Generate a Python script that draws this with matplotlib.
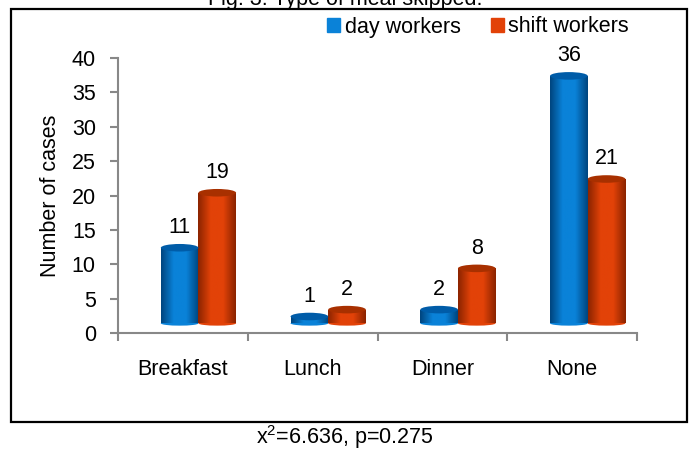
import matplotlib.pyplot as plt
import numpy as np
from matplotlib.patches import Ellipse, Rectangle

plt.rcParams["font.family"] = ["Liberation Sans", "DejaVu Sans"]
plt.rcParams["mathtext.fontset"] = "custom"
plt.rcParams["mathtext.rm"] = "Liberation Sans"
plt.rcParams["mathtext.it"] = "Liberation Sans"

## DATA
categories = ["Breakfast", "Lunch", "Dinner", "None"]
day_workers = [11, 1, 2, 36]
shift_workers = [19, 2, 8, 21]
series_names = ["day workers", "shift workers"]
y_ticks = [0, 5, 10, 15, 20, 25, 30, 35, 40]
title = "Fig. 3: Type of meal skipped."
caption = "x$^{2}$=6.636, p=0.275"

## STYLE
blue = ("#00457f", "#0a82d8", "#005ca8")   # edge, centre, top
red = ("#8c2400", "#e24208", "#a83000")
width = 0.29
shift = 0.12      # 3d perspective shift of the bars
floor = 1.4       # 3d floor raises the bar base
cap = 1.1         # height of the top ellipse in data units
fs = 15.5

fig = plt.figure(figsize=(6.94, 4.5), dpi=100)
ax = fig.add_axes([118 / 694, 1 - 333 / 450, 519 / 694, 275 / 450])

x = np.arange(len(categories))


def cylinders(ax, xpos, values, colors, label):
    edge, mid, top = colors
    bars = ax.bar(xpos, values, width, bottom=floor, color=mid, label=label, zorder=2)
    cmap = plt.matplotlib.colors.LinearSegmentedColormap.from_list(
        "c", [edge, mid, mid, edge]
    )
    grad = np.linspace(0, 1, 64).reshape(1, -1)
    for bar, v in zip(bars, values):
        bx, bw = bar.get_x(), bar.get_width()
        im = ax.imshow(
            grad,
            cmap=cmap,
            extent=[bx, bx + bw, floor, floor + v],
            aspect="auto",
            zorder=3,
        )
        im.set_clip_path(bar)
        cx = bx + bw / 2
        ax.add_patch(
            Ellipse((cx, floor), bw, cap * 0.6, color=mid, zorder=2.5, lw=0)
        )
        ax.add_patch(
            Ellipse((cx, floor + v), bw, cap, color=top, zorder=4, lw=0)
        )
        ax.text(cx, floor + v + 1.4, str(v), ha="center", va="bottom",
                fontsize=fs, zorder=5)
    return bars


cylinders(ax, x + shift - width / 2, day_workers, blue, series_names[0])
cylinders(ax, x + shift + width / 2, shift_workers, red, series_names[1])

ax.set_xlim(-0.5, len(categories) - 0.5)
ax.set_ylim(0, 40)
ax.set_aspect("auto")

ax.set_yticks(y_ticks)
ax.set_xticks(np.arange(len(categories) + 1) - 0.5, [""] * (len(categories) + 1))
ax.set_xticks(x, categories, minor=True)
ax.tick_params(axis="x", which="major", length=6, width=1.5, color="#888888")
ax.tick_params(axis="x", which="minor", length=0, pad=19, labelsize=fs)
ax.tick_params(axis="y", length=6, width=1.5, color="#888888", pad=10, labelsize=fs)

for s in ["top", "right"]:
    ax.spines[s].set_visible(False)
for s in ["left", "bottom"]:
    ax.spines[s].set_color("#888888")
    ax.spines[s].set_linewidth(1.5)

ax.set_ylabel("Number of cases", fontsize=fs, labelpad=8)

# legend with square markers
handles = [
    Rectangle((0, 0), 1, 1, color=blue[1]),
    Rectangle((0, 0), 1, 1, color=red[1]),
]
fig.legend(
    handles,
    series_names,
    loc="center",
    bbox_to_anchor=(478 / 694, 1 - 27 / 450),
    ncol=2,
    frameon=False,
    fontsize=fs,
    handlelength=0.6,
    handleheight=0.6,
    handletextpad=0.2,
    columnspacing=1.4,
    borderpad=0,
)

# outer border
fig.patches.append(
    Rectangle((11 / 694, 1 - 422 / 450), 676 / 694, 413 / 450,
              transform=fig.transFigure, fill=False, lw=1.6, ec="black")
)

fig.text(345 / 694, 1 - 5 / 450, title, ha="center", va="baseline", fontsize=fs)
fig.text(345 / 694, 1 - 437 / 450, caption, ha="center", va="center", fontsize=fs)

fig.savefig("out.png", dpi=100)
